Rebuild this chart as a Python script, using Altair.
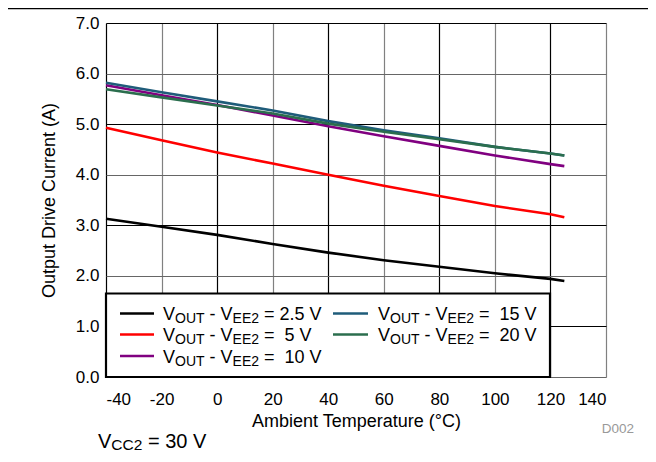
import altair as alt
import pandas as pd

# ---------------- data ----------------
temps = [-40, -20, 0, 20, 40, 60, 80, 100, 120, 125]
i_2p5 = [3.13, 2.97, 2.81, 2.63, 2.46, 2.31, 2.18, 2.05, 1.94, 1.90]
i_5 = [4.93, 4.68, 4.44, 4.22, 4.00, 3.78, 3.58, 3.38, 3.22, 3.16]
i_10 = [5.77, 5.57, 5.38, 5.17, 4.96, 4.76, 4.57, 4.38, 4.21, 4.17]
i_15 = [5.82, 5.63, 5.45, 5.27, 5.06, 4.88, 4.72, 4.55, 4.42, 4.38]
i_20 = [5.69, 5.53, 5.37, 5.21, 5.01, 4.85, 4.70, 4.55, 4.42, 4.38]

series_keys = ["2.5", "5", "10", "15", "20"]
series_vals = [i_2p5, i_5, i_10, i_15, i_20]
series_colors = ["#000000", "#FF0000", "#800080", "#1F5C7A", "#2B6E4E"]
# legend labels as (text, is_subscript) segments
legend_labels = [
    [("V", 0), ("OUT", 1), (" - V", 0), ("EE2", 1), (" = 2.5 V", 0)],
    [("V", 0), ("OUT", 1), (" - V", 0), ("EE2", 1), (" =  5 V", 0)],
    [("V", 0), ("OUT", 1), (" - V", 0), ("EE2", 1), (" =  10 V", 0)],
    [("V", 0), ("OUT", 1), (" - V", 0), ("EE2", 1), (" =  15 V", 0)],
    [("V", 0), ("OUT", 1), (" - V", 0), ("EE2", 1), (" =  20 V", 0)],
]
note_label = [("V", 0), ("CC2", 1), (" = 30 V", 0)]
code_label = "D002"
x_title = "Ambient Temperature (°C)"
y_title = "Output Drive Current (A)"

# ---------------- layout ----------------
W, H = 500, 354
XMIN, XMAX, YMIN, YMAX = -40, 140, 0, 7
FONT = "Liberation Sans"


def px2x(p):
    return XMIN + p * (XMAX - XMIN) / W


def px2y(p):
    return YMAX - p * (YMAX - YMIN) / H


ARIAL = {"V": .667, "O": .778, "U": .722, "T": .611, "E": .667, "C": .722,
         " ": .278, "-": .333, "=": .584, ".": .278}
for d in "0123456789":
    ARIAL[d] = .556


def tokens(segments, x0, main, sub):
    """split rich label into non-space tokens with their start x (px)."""
    out = []
    x = x0
    for text, is_sub in segments:
        fs = sub if is_sub else main
        cur, cx = "", x
        for ch in text:
            w = ARIAL.get(ch, .556) * fs
            if ch == " ":
                if cur:
                    out.append((cur, cx, is_sub))
                    cur = ""
                x += w
                cx = x
            else:
                if not cur:
                    cx = x
                cur += ch
                x += w
        if cur:
            out.append((cur, cx, is_sub))
    return out


rows = []
for k, vals in zip(series_keys, series_vals):
    for t, v in zip(temps, vals):
        rows.append({"T": t, "I": v, "s": k})
df = pd.DataFrame(rows)

color_scale = alt.Scale(domain=series_keys, range=series_colors)

xscale = alt.Scale(domain=[XMIN, XMAX], nice=False, zero=False)
yscale = alt.Scale(domain=[YMIN, YMAX], nice=False, zero=False)

x_axis = alt.Axis(
    values=list(range(-40, 141, 20)), title=x_title,
    labelExpr="'' + datum.value", labelOverlap=False,
    labelFont=FONT, labelFontSize=17, labelColor="black", labelPadding=14,
    ticks=False, tickSize=0, domain=False,
    gridColor={"condition": {"test": "datum.value % 40 === 0", "value": "#000000"}, "value": "#808080"},
    gridWidth=1.2, gridOpacity=1,
    titleFont=FONT, titleFontSize=18, titleFontWeight="normal", titleColor="black",
    titleX=250, titleY=49, titleBaseline="alphabetic", titleAlign="center",
)
y_axis = alt.Axis(
    values=[0, 1, 2, 3, 4, 5, 6, 7], title=y_title, format=".1f",
    labelFont=FONT, labelFontSize=17, labelColor="black", labelPadding=7,
    ticks=False, tickSize=0, domain=False,
    gridColor={"condition": {"test": "datum.value % 2 === 1", "value": "#000000"}, "value": "#666666"},
    gridWidth=1.2, gridOpacity=1,
    titleFont=FONT, titleFontSize=18, titleFontWeight="normal", titleColor="black",
    titleX=-52, titleY=177, titleAngle=270, titleBaseline="alphabetic", titleAlign="center",
)

lines = alt.Chart(df).mark_line(strokeWidth=2.6, clip=False).encode(
    x=alt.X("T:Q", scale=xscale, axis=x_axis),
    y=alt.Y("I:Q", scale=yscale, axis=y_axis),
    color=alt.Color("s:N", scale=color_scale, legend=None),
    detail="s:N",
)

# legend box
box_df = pd.DataFrame([{"x1": px2x(0), "x2": px2x(444), "y1": px2y(354), "y2": px2y(270.5)}])
box = alt.Chart(box_df).mark_rect(fill="white", stroke="black", strokeWidth=2.2).encode(
    x="x1:Q", x2="x2:Q", y="y1:Q", y2="y2:Q"
)

# legend entries
col_sym = [(14, 48), (227, 262)]
col_txt = [57, 272]
row_y = [290.5, 311.5, 333]
placement = [(0, 0), (0, 1), (0, 2), (1, 0), (1, 1)]
sym_rows, main_rows, sub_rows = [], [], []
for k, lab, (c, r) in zip(series_keys, legend_labels, placement):
    yy = row_y[r]
    sym_rows.append({"x1": px2x(col_sym[c][0]), "x2": px2x(col_sym[c][1]), "y": px2y(yy), "s": k})
    for tok, tx, is_sub in tokens(lab, col_txt[c], 18, 14):
        rec = {"x": px2x(tx), "t": tok}
        if is_sub:
            rec["y"] = px2y(yy + 9.5)
            sub_rows.append(rec)
        else:
            rec["y"] = px2y(yy + 6.5)
            main_rows.append(rec)

syms = alt.Chart(pd.DataFrame(sym_rows)).mark_rule(strokeWidth=2.6).encode(
    x="x1:Q", x2="x2:Q", y="y:Q",
    color=alt.Color("s:N", scale=color_scale, legend=None),
)
leg_main = alt.Chart(pd.DataFrame(main_rows)).mark_text(
    font=FONT, fontSize=18, align="left", baseline="alphabetic", color="black"
).encode(x="x:Q", y="y:Q", text="t:N")
leg_sub = alt.Chart(pd.DataFrame(sub_rows)).mark_text(
    font=FONT, fontSize=14, align="left", baseline="alphabetic", color="black"
).encode(x="x:Q", y="y:Q", text="t:N")

# note below chart
note_main, note_sub = [], []
for tok, tx, is_sub in tokens(note_label, -8, 20, 15.5):
    if is_sub:
        note_sub.append({"x": px2x(tx), "y": px2y(427), "t": tok})
    else:
        note_main.append({"x": px2x(tx), "y": px2y(424.5), "t": tok})
n_main = alt.Chart(pd.DataFrame(note_main)).mark_text(
    font=FONT, fontSize=20, align="left", baseline="alphabetic", color="black"
).encode(x="x:Q", y="y:Q", text="t:N")
n_sub = alt.Chart(pd.DataFrame(note_sub)).mark_text(
    font=FONT, fontSize=15.5, align="left", baseline="alphabetic", color="black"
).encode(x="x:Q", y="y:Q", text="t:N")

code = alt.Chart(pd.DataFrame([{"t": code_label}])).mark_text(
    font=FONT, fontSize=13.5, align="right", baseline="alphabetic", color="#999999"
).encode(x=alt.value(528), y=alt.value(410), text="t:N")

top_rule = alt.Chart(pd.DataFrame([{"a": 0}])).mark_rule(color="black", strokeWidth=1.5).encode(
    x=alt.value(-98), x2=alt.value(542), y=alt.value(-14.5)
)

chart = alt.layer(lines, box, syms, leg_main, leg_sub, n_main, n_sub, code, top_rule).properties(
    width=W, height=H,
    autosize=alt.AutoSizeParams(type="none"),
    padding={"left": 98, "top": 15, "right": 42, "bottom": 77},
).configure_view(
    stroke="black", strokeWidth=3
).configure(background="white")

chart.save("out.html", embed_options={"renderer": "svg", "actions": False})
